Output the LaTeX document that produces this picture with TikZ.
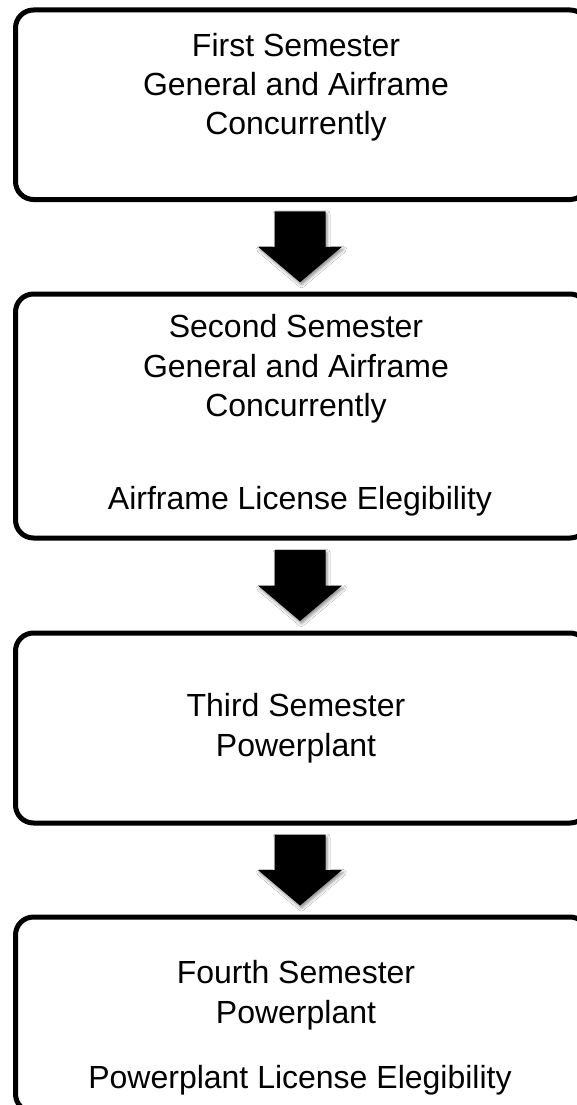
\documentclass[tikz,border=0pt]{standalone}
\usepackage{fontspec}
\setmainfont{Liberation Sans}
\usetikzlibrary{shadows.blur,calc}
\tikzset{
  stagebox/.style={draw=black, line width=5pt, rounded corners=18pt, fill=white,
    minimum width=572.5pt, inner sep=0pt},
  label/.style={anchor=base, inner sep=0pt, font=\fontsize{32pt}{40pt}\selectfont},
  blockarrow/.style={fill=black, blur shadow={shadow xshift=1.5pt, shadow yshift=-2.5pt, shadow blur radius=3pt, shadow opacity=45}},
}
\begin{document}
\begin{tikzpicture}[x=1pt,y=-1pt]
\clip (0,0) rectangle (577,1105);
\fill[white] (0,0) rectangle (577,1105);
% boxes
\node[stagebox, minimum height=189.5pt] (b1) at (301.75,104.75) {};
\node[stagebox, minimum height=244pt] (b2) at (301.75,416) {};
\node[stagebox, minimum height=190pt] (b3) at (301.75,728) {};
\node[stagebox, minimum height=195pt] (b4) at (301.75,1014.5) {};
% texts
\node[label] (t1a) at (296,57) {First Semester};
\node[label] (t1b) at (296,96) {General and Airframe};
\node[label] (t1c) at (296,135) {Concurrently};
\node[label] (t2a) at (296,337) {Second Semester};
\node[label] (t2b) at (296,377) {General and Airframe};
\node[label] (t2c) at (296,416) {Concurrently};
\node[label] (t2d) at (300,509) {Airframe License Elegibility};
\node[label] (t3a) at (296,716) {Third Semester};
\node[label] (t3b) at (296,756) {Powerplant};
\node[label] (t4a) at (296,983) {Fourth Semester};
\node[label] (t4b) at (296,1023) {Powerplant};
\node[label] (t4c) at (300,1088) {Powerplant License Elegibility};
% arrows
\foreach \u/\l [count=\i] in {b1/b2, b2/b3, b3/b4}{
  \coordinate (m\i) at ($(\u.south)!0.5!(\l.north)$);
  \path[blockarrow] ($(m\i)+(-27.25,-35.5)$) -- ($(m\i)+(23.75,-35.5)$) -- ($(m\i)+(23.75,0)$)
    -- ($(m\i)+(40.25,0)$) -- ($(m\i)+(-1.75,35.5)$) -- ($(m\i)+(-43.75,0)$)
    -- ($(m\i)+(-27.25,0)$) -- cycle;
}
\end{tikzpicture}
\end{document}
